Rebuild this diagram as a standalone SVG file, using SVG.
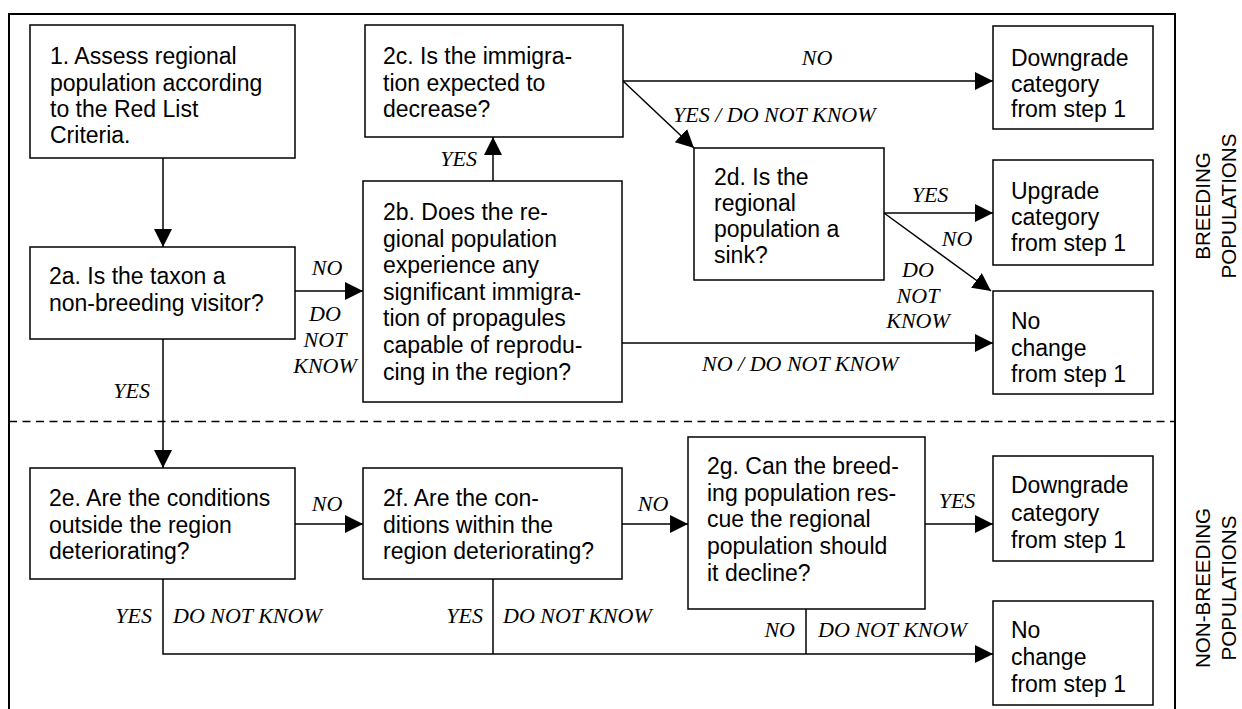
<svg xmlns="http://www.w3.org/2000/svg" width="1242" height="709" viewBox="0 0 1242 709">
<defs>
<marker id="ah" viewBox="0 0 18 18" refX="18" refY="9" markerWidth="18" markerHeight="18" markerUnits="userSpaceOnUse" orient="auto"><path d="M0,0 L18,9 L0,18 z" fill="#000"/></marker>
<style>
.box{fill:#fff;stroke:#000;stroke-width:1.5}
.t{font-family:"Liberation Sans",Arial,sans-serif;font-size:23px;fill:#000}
.lb{font-family:"Liberation Serif","Times New Roman",serif;font-style:italic;font-size:22px;fill:#000}
.side{font-family:"Liberation Sans",Arial,sans-serif;font-size:20.6px;fill:#000}
.c{fill:none;stroke:#000;stroke-width:1.5}
.a{marker-end:url(#ah)}
</style>
</defs>
<rect width="1242" height="709" fill="#fff"/>
<g id="frame">
<rect x="9" y="14" width="1166" height="720" fill="none" stroke="#000" stroke-width="2"/>
<line x1="9" y1="421.5" x2="1175" y2="421.5" stroke="#000" stroke-width="1.5" stroke-dasharray="8 5.5"/>
<text class="side" transform="translate(1210,206) rotate(-90)" text-anchor="middle">BREEDING</text>
<text class="side" transform="translate(1236,206) rotate(-90)" text-anchor="middle">POPULATIONS</text>
<text class="side" transform="translate(1210,588) rotate(-90)" text-anchor="middle">NON-BREEDING</text>
<text class="side" transform="translate(1236,588) rotate(-90)" text-anchor="middle">POPULATIONS</text>
</g>
<g id="connectors">
<path class="c a" d="M163,158 V247"/>
<path class="c a" d="M295,291 H363"/>
<path class="c a" d="M493,181 V137"/>
<path class="c a" d="M623,81 H993"/>
<path class="c a" d="M623,81 L694,148"/>
<path class="c a" d="M884,213 H993"/>
<path class="c a" d="M884,213 L991,291"/>
<path class="c a" d="M622,343 H993"/>
<path class="c a" d="M163,339 V468"/>
<path class="c a" d="M295,524 H363"/>
<path class="c a" d="M622,524 H688"/>
<path class="c a" d="M925,524 H993"/>
<path class="c a" d="M163,579 V654 H993"/>
<path class="c" d="M493,579 V654"/>
<path class="c" d="M806,609 V654"/>
<text class="lb" x="817" y="65" text-anchor="middle">NO</text>
<text class="lb" x="673" y="122">YES / DO NOT KNOW</text>
<text class="lb" x="477" y="166" text-anchor="end">YES</text>
<text class="lb" x="327" y="275" text-anchor="middle">NO</text>
<text class="lb" x="325" y="321" text-anchor="middle">DO</text>
<text class="lb" x="325" y="347" text-anchor="middle">NOT</text>
<text class="lb" x="325" y="373" text-anchor="middle">KNOW</text>
<text class="lb" x="930" y="202" text-anchor="middle">YES</text>
<text class="lb" x="957" y="246" text-anchor="middle">NO</text>
<text class="lb" x="918" y="277" text-anchor="middle">DO</text>
<text class="lb" x="918" y="303" text-anchor="middle">NOT</text>
<text class="lb" x="918" y="328" text-anchor="middle">KNOW</text>
<text class="lb" x="702" y="371">NO / DO NOT KNOW</text>
<text class="lb" x="150" y="398" text-anchor="end">YES</text>
<text class="lb" x="327" y="511" text-anchor="middle">NO</text>
<text class="lb" x="653" y="511" text-anchor="middle">NO</text>
<text class="lb" x="957" y="508" text-anchor="middle">YES</text>
<text class="lb" x="152" y="623" text-anchor="end">YES</text>
<text class="lb" x="173" y="623">DO NOT KNOW</text>
<text class="lb" x="483" y="623" text-anchor="end">YES</text>
<text class="lb" x="503" y="623">DO NOT KNOW</text>
<text class="lb" x="795" y="637" text-anchor="end">NO</text>
<text class="lb" x="818" y="637">DO NOT KNOW</text>
</g>
<g id="n1">
<rect class="box" x="30" y="25" width="265" height="133"/>
<text class="t" x="50" y="64">1. Assess regional</text>
<text class="t" x="50" y="91">population according</text>
<text class="t" x="50" y="117">to the Red List</text>
<text class="t" x="50" y="143">Criteria.</text>
</g>
<g id="n2c">
<rect class="box" x="365" y="25" width="258" height="112"/>
<text class="t" x="383" y="64">2c. Is the immigra-</text>
<text class="t" x="383" y="91">tion expected to</text>
<text class="t" x="383" y="117">decrease?</text>
</g>
<g id="n2b">
<rect class="box" x="363" y="181" width="259" height="221"/>
<text class="t" x="383" y="220">2b. Does the re-</text>
<text class="t" x="383" y="246.6">gional population</text>
<text class="t" x="383" y="273.2">experience any</text>
<text class="t" x="383" y="299.8">significant immigra-</text>
<text class="t" x="383" y="326.4">tion of propagules</text>
<text class="t" x="383" y="353">capable of reprodu-</text>
<text class="t" x="383" y="379.6">cing in the region?</text>
</g>
<g id="n2a">
<rect class="box" x="30" y="247" width="265" height="92"/>
<text class="t" x="49" y="284">2a. Is the taxon a</text>
<text class="t" x="49" y="311">non-breeding visitor?</text>
</g>
<g id="n2d">
<rect class="box" x="694" y="148" width="190" height="132"/>
<text class="t" x="714" y="184.5">2d. Is the</text>
<text class="t" x="714" y="210.8">regional</text>
<text class="t" x="714" y="237.1">population a</text>
<text class="t" x="714" y="263.4">sink?</text>
</g>
<g id="r1">
<rect class="box" x="993" y="26" width="160" height="103"/>
<text class="t" x="1011" y="66">Downgrade</text>
<text class="t" x="1011" y="92">category</text>
<text class="t" x="1011" y="117">from step 1</text>
</g>
<g id="r2">
<rect class="box" x="993" y="160" width="160" height="105"/>
<text class="t" x="1011" y="199">Upgrade</text>
<text class="t" x="1011" y="225">category</text>
<text class="t" x="1011" y="251">from step 1</text>
</g>
<g id="r3">
<rect class="box" x="993" y="291" width="160" height="103"/>
<text class="t" x="1011" y="329">No</text>
<text class="t" x="1011" y="355.5">change</text>
<text class="t" x="1011" y="382">from step 1</text>
</g>
<g id="n2e">
<rect class="box" x="30" y="468" width="265" height="111"/>
<text class="t" x="49" y="506">2e. Are the conditions</text>
<text class="t" x="49" y="533">outside the region</text>
<text class="t" x="49" y="559">deteriorating?</text>
</g>
<g id="n2f">
<rect class="box" x="363" y="468" width="259" height="111"/>
<text class="t" x="383" y="506">2f. Are the con-</text>
<text class="t" x="383" y="533">ditions within the</text>
<text class="t" x="383" y="559">region deteriorating?</text>
</g>
<g id="n2g">
<rect class="box" x="688" y="437" width="237" height="172"/>
<text class="t" x="707" y="474">2g. Can the breed-</text>
<text class="t" x="707" y="500.7">ing population res-</text>
<text class="t" x="707" y="527.4">cue the regional</text>
<text class="t" x="707" y="554">population should</text>
<text class="t" x="707" y="580.8">it decline?</text>
</g>
<g id="r4">
<rect class="box" x="993" y="456" width="160" height="105"/>
<text class="t" x="1011" y="493">Downgrade</text>
<text class="t" x="1011" y="521">category</text>
<text class="t" x="1011" y="548">from step 1</text>
</g>
<g id="r5">
<rect class="box" x="993" y="601" width="160" height="104"/>
<text class="t" x="1011" y="638">No</text>
<text class="t" x="1011" y="665">change</text>
<text class="t" x="1011" y="692">from step 1</text>
</g>
</svg>
